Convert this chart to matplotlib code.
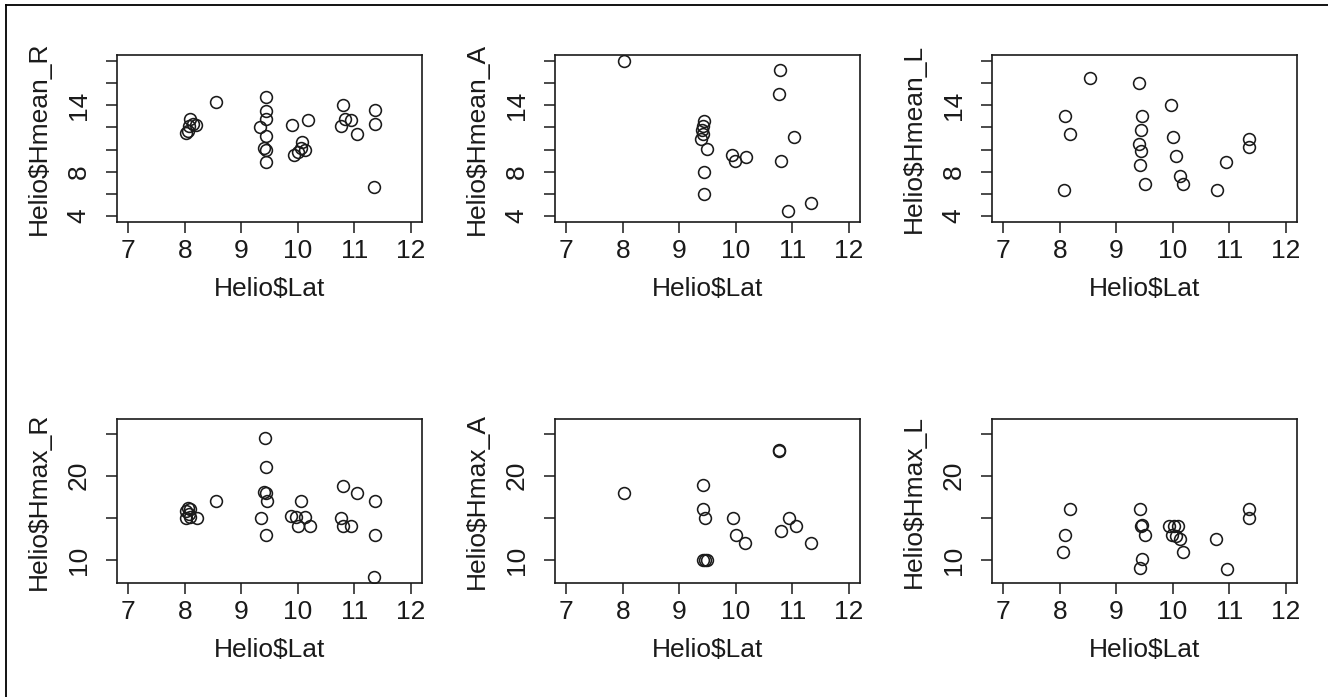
import matplotlib
matplotlib.use("Agg")
import matplotlib.pyplot as plt
from matplotlib.lines import Line2D

plt.rcParams["font.family"] = ["Liberation Sans", "DejaVu Sans"]

# values (Lat vs. heliostat heights)
lat_mean_R = [8.03, 8.06, 8.08, 8.10, 8.14, 8.20, 8.55, 9.43, 9.43, 9.44, 9.34, 9.44, 9.41, 9.44, 9.43,
              9.90, 10.18, 9.94, 10.00, 10.05, 10.07, 10.13, 10.80, 10.77, 10.83, 10.95, 11.05, 11.37, 11.37, 11.35]
hmean_R = [11.5, 11.7, 12.1, 12.8, 12.3, 12.2, 14.3, 14.8, 13.5, 12.8, 12.0, 11.2, 10.1, 10.0, 8.9,
           12.2, 12.7, 9.5, 9.8, 10.1, 10.7, 10.0, 14.0, 12.1, 12.8, 12.7, 11.4, 13.6, 12.3, 6.6]

lat_mean_A = [8.03, 10.79, 10.76, 9.44, 9.42, 9.40, 9.42, 9.39, 9.49, 9.44, 9.43, 9.94, 9.99, 10.18,
              11.04, 10.80, 10.93, 11.33]
hmean_A = [18.0, 17.2, 15.0, 12.6, 12.1, 11.8, 11.4, 11.0, 10.05, 8.0, 5.95, 9.5, 9.0, 9.3,
           11.1, 9.0, 4.45, 5.2]

lat_mean_L = [8.54, 8.09, 8.18, 8.07, 9.41, 9.46, 9.44, 9.41, 9.44, 9.42, 9.50, 9.97, 10.01, 10.06,
              10.12, 10.18, 10.78, 10.95, 11.35, 11.35]
hmean_L = [16.5, 13.0, 11.4, 6.35, 16.0, 13.0, 11.8, 10.5, 9.85, 8.6, 6.85, 14.0, 11.15, 9.45,
           7.65, 6.85, 6.35, 8.9, 11.0, 10.25]

lat_max_R = [8.05, 8.10, 8.02, 8.08, 8.02, 8.10, 8.21, 8.55, 9.42, 9.44, 9.41, 9.44, 9.45, 9.35, 9.43,
             9.88, 9.97, 10.06, 10.00, 10.12, 10.21, 10.77, 10.80, 10.95, 10.80, 11.05, 11.36, 11.36, 11.35]
hmax_R = [16.2, 16.1, 15.8, 15.5, 15.0, 15.1, 15.0, 17.0, 24.5, 21.0, 18.1, 18.0, 17.0, 15.0, 13.0,
          15.2, 15.1, 17.0, 14.0, 15.1, 14.0, 15.0, 14.0, 14.0, 18.8, 17.9, 17.0, 13.0, 8.0]

lat_max_A = [8.03, 10.76, 10.77, 9.42, 9.42, 9.45, 9.42, 9.46, 9.49, 9.95, 10.00, 10.17, 10.94, 11.06,
             10.81, 11.33]
hmax_A = [18.0, 23.0, 22.9, 18.9, 16.0, 15.0, 10.0, 10.0, 10.0, 15.0, 13.0, 12.0, 15.0, 14.0,
          13.5, 12.0]

lat_max_L = [8.18, 8.09, 8.05, 9.42, 9.43, 9.45, 9.50, 9.45, 9.42, 9.94, 10.03, 10.09, 9.98, 10.06,
             10.13, 10.18, 10.76, 10.96, 11.35, 11.35]
hmax_L = [16.0, 13.0, 11.0, 16.0, 14.0, 14.1, 13.0, 10.1, 9.1, 14.0, 14.0, 14.0, 13.0, 12.9,
          12.5, 11.0, 12.5, 8.9, 16.0, 15.0]

x_ticks = [7, 8, 9, 10, 11, 12]
mean_ticks = [4, 6, 8, 10, 12, 14, 16, 18]
mean_labels = ["4", "", "8", "", "", "14", "", ""]
max_ticks = [10, 15, 20, 25]
max_labels = ["10", "", "20", ""]

panels = [
    (lat_mean_R, hmean_R, "Helio$Hmean_R", 0, 0),
    (lat_mean_A, hmean_A, "Helio$Hmean_A", 0, 1),
    (lat_mean_L, hmean_L, "Helio$Hmean_L", 0, 2),
    (lat_max_R, hmax_R, "Helio$Hmax_R", 1, 0),
    (lat_max_A, hmax_A, "Helio$Hmax_A", 1, 1),
    (lat_max_L, hmax_L, "Helio$Hmax_L", 1, 2),
]

W, H = 1328, 697
fig = plt.figure(figsize=(W / 100, H / 100), dpi=100)

col_left = [117, 555, 992]
col_w = 305
row_top = [55, 419]
row_h = [167, 164]
FS = 19
INK = "#1a1a1a"


def r_lim(lo, hi):
    pad = 0.04 * (hi - lo)
    return lo - pad, hi + pad


for xs, ys, label, r, c in panels:
    left, top = col_left[c], row_top[r]
    ax = fig.add_axes([left / W, 1 - (top + row_h[r]) / H, col_w / W, row_h[r] / H])
    ax.plot(xs, ys, "o", ms=8.5, mfc="none", mec=INK, mew=1.15)
    ax.set_xlim(*r_lim(7, 12))
    ax.set_xticks(x_ticks)
    if r == 0:
        ax.set_ylim(*r_lim(4, 18))
        ax.set_yticks(mean_ticks)
        ax.set_yticklabels(mean_labels)
    else:
        ax.set_ylim(*r_lim(8, 26))
        ax.set_yticks(max_ticks)
        ax.set_yticklabels(max_labels)
    ax.tick_params(axis="both", direction="out", length=8, width=1.1, labelsize=FS,
                   colors=INK)
    ax.tick_params(axis="x", pad=4)
    ax.tick_params(axis="y", pad=11)
    for t in ax.get_yticklabels():
        t.set_rotation(90)
        t.set_va("center")
    for sp in ax.spines.values():
        sp.set_linewidth(1.2)
        sp.set_color(INK)
    ax.set_xlabel("Helio$Lat", fontsize=FS, va="center", color=INK)
    ax.xaxis.set_label_coords(0.5, -67 / row_h[r])
    ax.set_ylabel(label, fontsize=FS, va="center", color=INK)
    ax.yaxis.set_label_coords(-78 / col_w, 0.5)

# outer frame (left and top edges only, as in the cropped reference)
fig.add_artist(Line2D([6 / W, 6 / W], [0, 1 - 5 / H], color="black", lw=1.3))
fig.add_artist(Line2D([6 / W, 1], [1 - 5 / H, 1 - 5 / H], color="black", lw=1.3))

fig.savefig("out.png", dpi=100)
